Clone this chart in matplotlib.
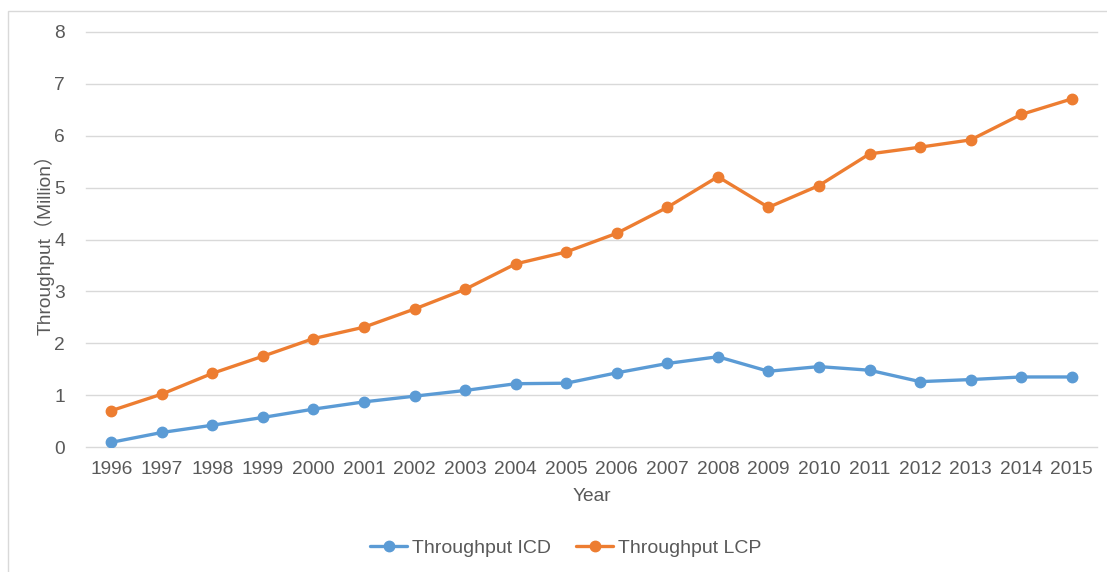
import matplotlib
matplotlib.use("Agg")
import matplotlib.pyplot as plt
from matplotlib.patches import Rectangle

# data
years = [str(y) for y in range(1996, 2016)]
icd = [0.09, 0.28, 0.42, 0.57, 0.73, 0.87, 0.98, 1.09, 1.22, 1.23,
       1.43, 1.61, 1.74, 1.46, 1.55, 1.48, 1.26, 1.30, 1.35, 1.35]
lcp = [0.70, 1.02, 1.42, 1.75, 2.09, 2.31, 2.66, 3.04, 3.53, 3.76,
       4.12, 4.62, 5.21, 4.62, 5.04, 5.65, 5.78, 5.92, 6.41, 6.71]
yticks = [0, 1, 2, 3, 4, 5, 6, 7, 8]

BLUE = "#5B9BD5"
ORANGE = "#ED7D31"
TEXT = "#595959"
GRID = "#D9D9D9"

plt.rcParams["font.family"] = ["Liberation Sans", "Noto Sans CJK SC", "DejaVu Sans"]

W, H = 1107, 572
fig = plt.figure(figsize=(W / 100, H / 100), dpi=100)

# outer chart border (cut off at right and bottom in the reference)
fig.patches.append(Rectangle((8 / W, -0.1), 1.2, 1 - 11 / H + 0.1,
                             transform=fig.transFigure, fill=False,
                             edgecolor=GRID, linewidth=1.0))

ax = fig.add_axes([86 / W, 1 - 447 / H, (1097 - 86) / W, (447 - 32) / H])

x = list(range(len(years)))
ax.plot(x, icd, color=BLUE, lw=2.4, marker="o", ms=7.5, label="Throughput ICD",
        solid_capstyle="round", zorder=3)
ax.plot(x, lcp, color=ORANGE, lw=2.4, marker="o", ms=7.5, label="Throughput LCP",
        solid_capstyle="round", zorder=3)

ax.set_xlim(-0.5, len(years) - 0.5)
ax.set_ylim(0, 8)
ax.set_yticks(yticks)
ax.set_xticks(x)
ax.set_xticklabels(years)

# horizontal gridlines, including the one at zero on the bottom edge
for t in yticks:
    ax.axhline(t, color=GRID, linewidth=1.0, zorder=1, clip_on=False)
for s in ax.spines.values():
    s.set_visible(False)
ax.tick_params(axis="both", length=0, labelsize=13.8, colors=TEXT)
ax.tick_params(axis="y", pad=15)
ax.tick_params(axis="x", pad=10)

ax.set_xlabel("Year", fontsize=13.8, color=TEXT, labelpad=7)
ax.set_ylabel("Throughput（Million）", fontsize=13.8, color=TEXT, labelpad=0)

fig.legend(loc="center", bbox_to_anchor=(566 / W, 1 - 548 / H), ncol=2,
           frameon=False, fontsize=14, handlelength=1.9, handletextpad=0.25,
           columnspacing=1.3, labelcolor=TEXT)

fig.savefig("out.png", dpi=100)
